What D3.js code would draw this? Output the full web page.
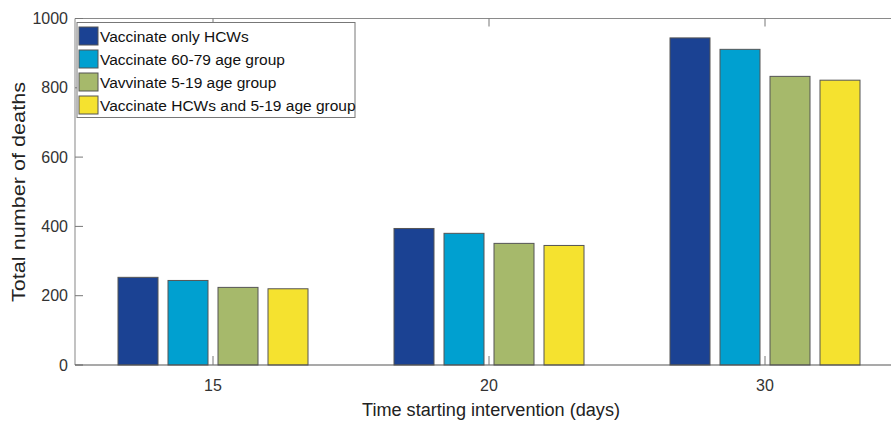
<!DOCTYPE html>
<html><head><meta charset="utf-8">
<script src="https://d3js.org/d3.v7.min.js"></script>
<style>body{margin:0;background:#fff}svg{display:block}text{font-family:"Liberation Sans",Arial,sans-serif}</style>
</head><body><svg id="c" width="891" height="424"></svg>
<script>
const categories = ["15", "20", "30"];
const seriesNames = ["Vaccinate only HCWs", "Vaccinate 60-79 age group", "Vavvinate 5-19 age group", "Vaccinate HCWs and 5-19 age group"];
const seriesColors = ["#1b4293", "#00a0d0", "#a6b96b", "#f5e22f"];
const values15 = [253, 244, 224, 220];
const values20 = [394, 380, 351, 345];
const values30 = [944, 911, 833, 822];
const yTicks = [0, 200, 400, 600, 800, 1000];
const allValues = [values15, values20, values30];

const svg = d3.select("#c");
const L = 75, R = 903, T = 18.5, B = 365;
const x0 = d3.scaleBand().domain(categories).range([L, R]).padding(0);
const x1 = d3.scaleBand().domain(d3.range(seriesNames.length)).range([0, 200]).paddingInner(0.2).paddingOuter(0.1);
const y = d3.scaleLinear().domain([0, 1000]).range([B, T]);

// bars
categories.forEach((c, ci) => {
  const g = svg.append("g").attr("transform", `translate(${x0(c) + (x0.bandwidth() - 200) / 2},0)`);
  g.selectAll("rect").data(allValues[ci]).join("rect")
    .attr("x", (d, i) => x1(i)).attr("width", x1.bandwidth())
    .attr("y", d => y(d)).attr("height", d => y(0) - y(d))
    .attr("fill", (d, i) => seriesColors[i])
    .attr("stroke", "#555").attr("stroke-width", 1);
});

// frame lines
svg.append("line").attr("x1", L).attr("x2", R).attr("y1", T).attr("y2", T).attr("stroke", "#8a8a8a").attr("stroke-width", 1.2);
svg.append("line").attr("x1", L).attr("x2", L).attr("y1", T).attr("y2", B).attr("stroke", "#9a9a9a").attr("stroke-width", 1.2);

// y axis
const yAxis = d3.axisLeft(y).tickValues(yTicks).tickSize(0).tickPadding(7).tickFormat(d3.format("d"));
const ya = svg.append("g").attr("transform", `translate(${L},0)`).call(yAxis);
ya.select(".domain").remove();
ya.selectAll("text").attr("font-size", 16).attr("fill", "#333").attr("font-family", "Liberation Sans, Arial, sans-serif");
svg.append("g").selectAll("line").data(yTicks).join("line")
  .attr("x1", L).attr("x2", L + 8).attr("y1", d => y(d)).attr("y2", d => y(d)).attr("stroke", "#777");

// x axis
const xAxis = d3.axisBottom(x0).tickSize(0).tickPadding(15);
const xa = svg.append("g").attr("transform", `translate(0,${B})`).call(xAxis);
xa.select(".domain").remove();
xa.selectAll("text").attr("font-size", 16).attr("fill", "#333").attr("font-family", "Liberation Sans, Arial, sans-serif");
svg.append("line").attr("x1", L).attr("x2", R).attr("y1", B).attr("y2", B).attr("stroke", "#555").attr("stroke-width", 1.2);
svg.append("g").selectAll("line").data(categories).join("line")
  .attr("x1", d => x0(d) + x0.bandwidth() / 2).attr("x2", d => x0(d) + x0.bandwidth() / 2)
  .attr("y1", B).attr("y2", B - 9).attr("stroke", "#777");
svg.append("g").selectAll("line").data(categories).join("line")
  .attr("x1", d => x0(d) + x0.bandwidth() / 2).attr("x2", d => x0(d) + x0.bandwidth() / 2)
  .attr("y1", T).attr("y2", T + 8).attr("stroke", "#777");

// axis titles
svg.append("text").attr("x", 491).attr("y", 416).attr("text-anchor", "middle")
  .attr("font-size", 18).attr("textLength", 258).attr("lengthAdjust", "spacingAndGlyphs")
  .attr("fill", "#222").text("Time starting intervention (days)");
svg.append("text").attr("transform", "translate(25,192) rotate(-90)").attr("text-anchor", "middle")
  .attr("font-size", 18).attr("textLength", 220).attr("lengthAdjust", "spacingAndGlyphs")
  .attr("fill", "#222").text("Total number of deaths");

// legend
const lg = svg.append("g");
lg.append("rect").attr("x", 77).attr("y", 22.5).attr("width", 278).attr("height", 95)
  .attr("fill", "#fff").attr("stroke", "#777").attr("stroke-width", 1);
seriesNames.forEach((s, i) => {
  const yy = 27 + i * 23;
  lg.append("rect").attr("x", 79).attr("y", yy).attr("width", 19).attr("height", 18)
    .attr("fill", seriesColors[i]).attr("stroke", "#555");
  lg.append("text").attr("x", 100).attr("y", yy + 15).attr("font-size", 15.5).attr("fill", "#111").text(s);
});
</script></body></html>
